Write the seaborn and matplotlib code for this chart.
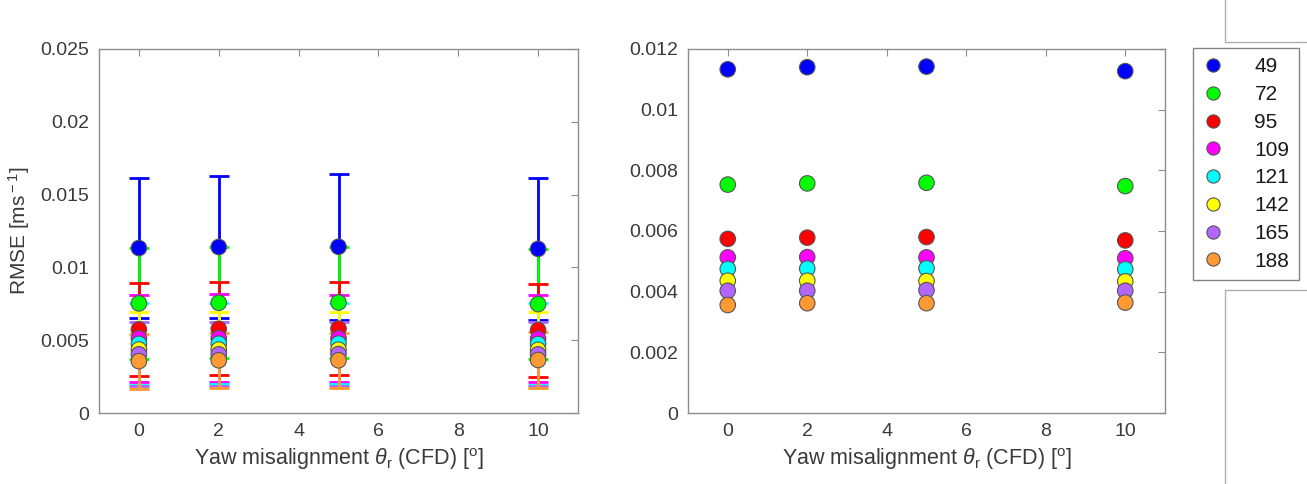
import numpy as np
import pandas as pd
import matplotlib
matplotlib.use("Agg")
import matplotlib.pyplot as plt
from matplotlib.lines import Line2D
import seaborn as sns

# ---- data ----
yaw = [0, 2, 5, 10]
labels = ['49', '72', '95', '109', '121', '142', '165', '188']
colors = ['#0000ff', '#00ff00', '#ff0000', '#ff00ff', '#00ffff', '#ffff00', '#b266ff', '#ff9933']

rmse_49 = [0.01133, 0.01140, 0.01142, 0.01127]
rmse_72 = [0.00753, 0.00757, 0.00759, 0.00748]
rmse_95 = [0.00574, 0.00578, 0.00580, 0.00569]
rmse_109 = [0.00513, 0.00514, 0.00513, 0.00510]
rmse_121 = [0.00475, 0.00476, 0.00477, 0.00474]
rmse_142 = [0.00436, 0.00436, 0.00435, 0.00434]
rmse_165 = [0.00403, 0.00403, 0.00405, 0.00403]
rmse_188 = [0.00356, 0.00362, 0.00362, 0.00364]

err_49 = [0.0048, 0.0049, 0.0050, 0.0049]
err_72 = [0.0038, 0.0038, 0.0038, 0.0038]
err_95 = [0.0032, 0.0032, 0.0032, 0.0032]
err_109 = [0.0030, 0.0030, 0.0030, 0.0030]
err_121 = [0.0028, 0.0028, 0.0028, 0.0028]
err_142 = [0.0026, 0.0026, 0.0026, 0.0026]
err_165 = [0.0022, 0.0022, 0.0022, 0.0022]
err_188 = [0.0019, 0.0019, 0.0019, 0.0019]

rmse = [rmse_49, rmse_72, rmse_95, rmse_109, rmse_121, rmse_142, rmse_165, rmse_188]
errs = [err_49, err_72, err_95, err_109, err_121, err_142, err_165, err_188]

rows = []
for lab, vals, ee in zip(labels, rmse, errs):
    for xv, v, e in zip(yaw, vals, ee):
        rows.append({'yaw': xv, 'rmse': v, 'err': e, 'ts': lab})
df = pd.DataFrame(rows)

# ---- style ----
sns.set_theme(style='white')
plt.rcParams['font.family'] = ['Liberation Sans', 'DejaVu Sans']
plt.rcParams['mathtext.fontset'] = 'custom'
plt.rcParams['mathtext.rm'] = 'Liberation Sans'
plt.rcParams['mathtext.it'] = 'Liberation Sans:italic'
txt = '#3a3a3a'
spine = '#8c8c8c'

fig = plt.figure(figsize=(13.07, 4.84), dpi=100)
axL = fig.add_axes([99 / 1307, 1 - 413 / 484, (578 - 99) / 1307, (413 - 49) / 484])
axR = fig.add_axes([688 / 1307, 1 - 413 / 484, (1165 - 688) / 1307, (413 - 49) / 484])

palette = dict(zip(labels, colors))

# left: error bars, then markers
for lab, col in zip(labels, colors):
    sub = df[df.ts == lab]
    axL.errorbar(sub.yaw, sub.rmse, yerr=sub.err, fmt='none', ecolor=col,
                 elinewidth=2.0, capsize=7, capthick=2.0, zorder=2)
sns.scatterplot(data=df, x='yaw', y='rmse', hue='ts', palette=palette, hue_order=labels,
                s=125, edgecolor='#555555', linewidth=0.8, ax=axL, legend=False, zorder=3)

sns.scatterplot(data=df, x='yaw', y='rmse', hue='ts', palette=palette, hue_order=labels,
                s=125, edgecolor='#555555', linewidth=0.8, ax=axR, legend=False, zorder=3)

axL.set_ylim(0, 0.025)
axL.set_yticks([0, 0.005, 0.01, 0.015, 0.02, 0.025])
axL.set_yticklabels(['0', '0.005', '0.01', '0.015', '0.02', '0.025'])
axR.set_ylim(0, 0.012)
axR.set_yticks([0, 0.002, 0.004, 0.006, 0.008, 0.01, 0.012])
axR.set_yticklabels(['0', '0.002', '0.004', '0.006', '0.008', '0.01', '0.012'])

for ax in (axL, axR):
    ax.set_xlim(-1, 11)
    ax.set_xticks([0, 2, 4, 6, 8, 10])
    ax.set_xlabel(r'Yaw misalignment $\theta_{\rm r}$ (CFD) [$^{\rm o}$]', fontsize=15.5, color=txt, labelpad=5)
    ax.set_ylabel('')
    ax.tick_params(axis='both', direction='in', length=5, width=0.8, color=spine,
                   labelsize=14, labelcolor=txt, top=True, right=True, pad=7)
    for s in ax.spines.values():
        s.set_color(spine)
        s.set_linewidth(1.0)
    ax.grid(False)

axL.set_ylabel(r'RMSE [ms$^{\rm -1}$]', fontsize=15, color=txt, labelpad=6)

# legend
handles = [Line2D([0], [0], marker='o', linestyle='none', markerfacecolor=c,
                  markeredgecolor='#555555', markeredgewidth=0.8, markersize=9.5) for c in colors]
leg = fig.legend(handles, labels, loc='upper left', bbox_to_anchor=(1193 / 1307, 1 - 48 / 484),
                 bbox_transform=fig.transFigure, frameon=True, fancybox=False, fontsize=15,
                 labelspacing=0.42, handlelength=1.0, handletextpad=1.5, borderpad=0.45,
                 borderaxespad=0, labelcolor='#1a1a1a')
leg.get_frame().set_edgecolor('#666666')
leg.get_frame().set_linewidth(1.0)

# decorative frame remnants at the right edge
W, H = 1307, 484
gray = '#b0b0b0'
fig.add_artist(Line2D([1225 / W, 1225 / W], [1, 1 - 42 / H], color=gray, lw=1, transform=fig.transFigure))
fig.add_artist(Line2D([1225 / W, 1], [1 - 42 / H, 1 - 42 / H], color=gray, lw=1, transform=fig.transFigure))
fig.add_artist(Line2D([1225 / W, 1], [1 - 290 / H, 1 - 290 / H], color=gray, lw=1, transform=fig.transFigure))
fig.add_artist(Line2D([1225 / W, 1225 / W], [1 - 290 / H, 0], color=gray, lw=1, transform=fig.transFigure))

fig.savefig('out.png', dpi=100)
